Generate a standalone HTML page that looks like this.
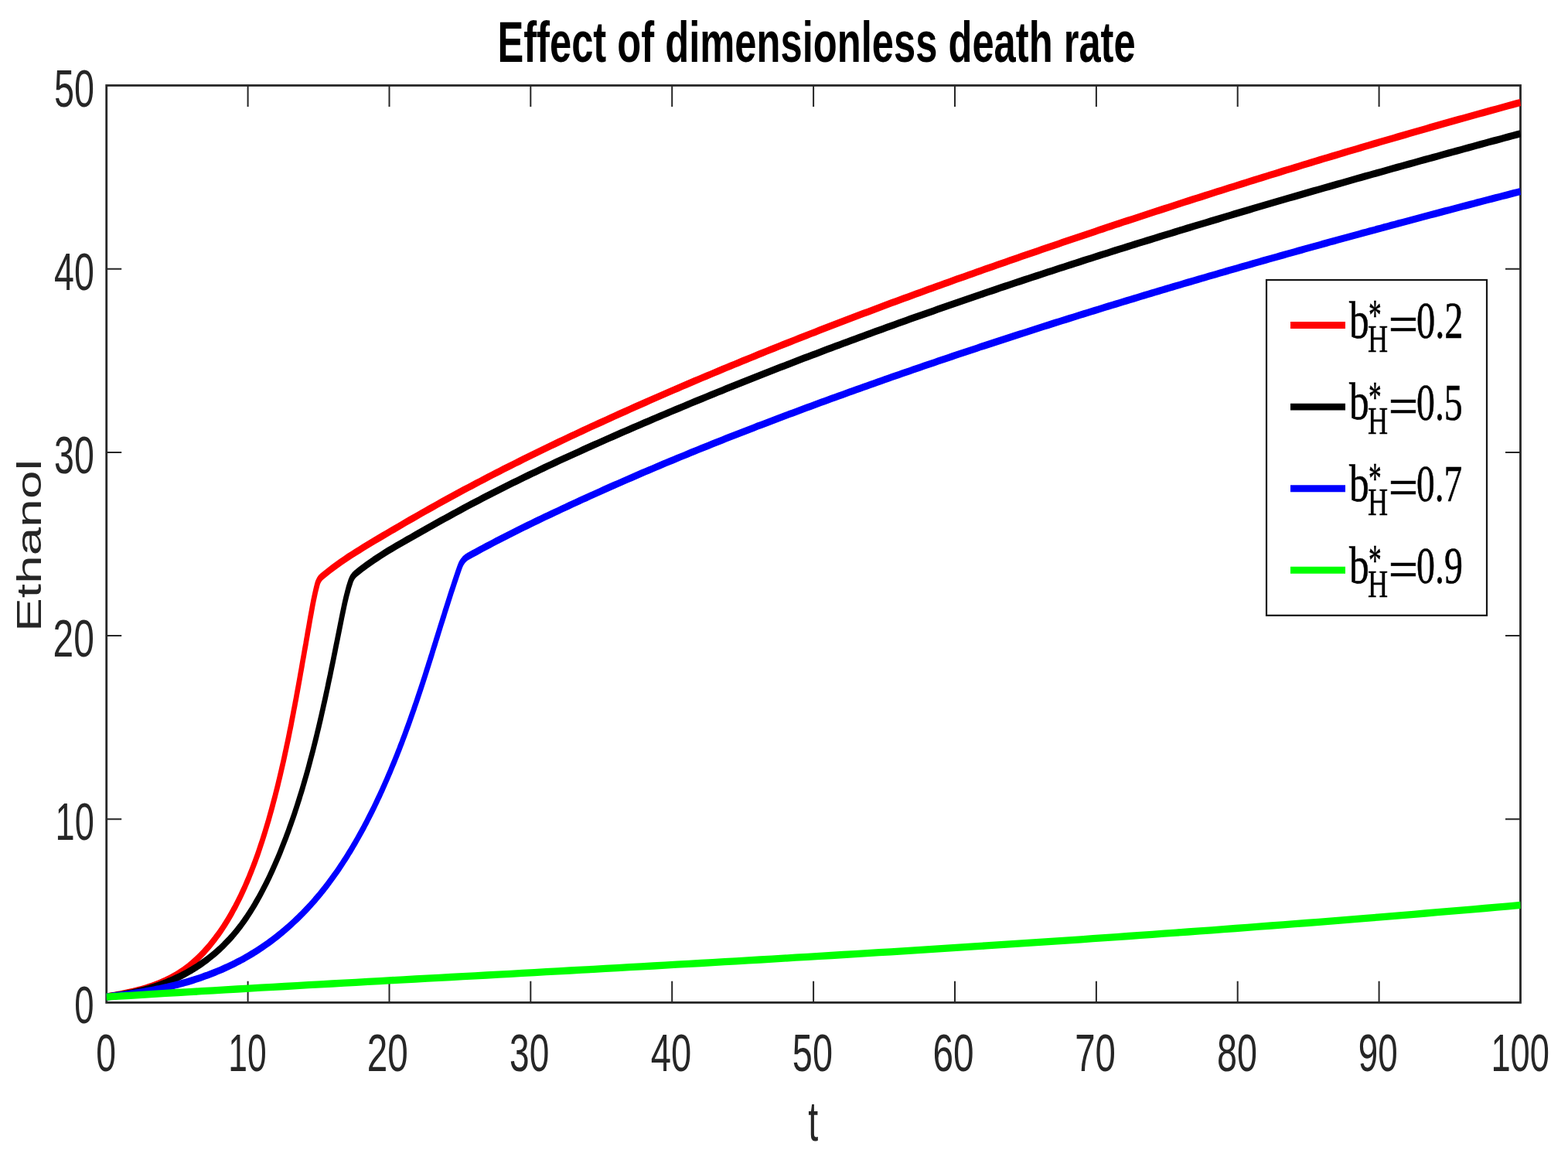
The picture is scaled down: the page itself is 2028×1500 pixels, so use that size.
<!DOCTYPE html><html><head><meta charset="utf-8"><title>Effect of dimensionless death rate</title><style>html,body{margin:0;padding:0;background:#fff;overflow:hidden;}svg{display:block;}</style></head><body>
<svg width="2028" height="1500" viewBox="0 0 2028 1500">
<rect x="0" y="0" width="2028" height="1500" fill="#fff"/>
<g stroke="#262626" fill="none">
<rect x="137.7" y="110.5" width="1828.8" height="1185.9" stroke-width="2.8"/>
<path d="M320.6 1296.4V1268.8M320.6 110.5V138.1M503.5 1296.4V1268.8M503.5 110.5V138.1M686.3 1296.4V1268.8M686.3 110.5V138.1M869.2 1296.4V1268.8M869.2 110.5V138.1M1052.1 1296.4V1268.8M1052.1 110.5V138.1M1235.0 1296.4V1268.8M1235.0 110.5V138.1M1417.9 1296.4V1268.8M1417.9 110.5V138.1M1600.7 1296.4V1268.8M1600.7 110.5V138.1M1783.6 1296.4V1268.8M1783.6 110.5V138.1M137.7 1059.2H157.2M1966.5 1059.2H1947.0M137.7 822.0H157.2M1966.5 822.0H1947.0M137.7 584.9H157.2M1966.5 584.9H1947.0M137.7 347.7H157.2M1966.5 347.7H1947.0" stroke-width="2"/>
</g>
<text transform="translate(124.20 1385.11) scale(0.46345 0.69014)" font-family="Liberation Sans, Arial, Helvetica, sans-serif" font-size="100" fill="#262626">0</text>
<text transform="translate(295.34 1385.11) scale(0.44400 0.69014)" font-family="Liberation Sans, Arial, Helvetica, sans-serif" font-size="100" fill="#262626">10</text>
<text transform="translate(474.72 1385.11) scale(0.47687 0.69014)" font-family="Liberation Sans, Arial, Helvetica, sans-serif" font-size="100" fill="#262626">20</text>
<text transform="translate(659.11 1385.11) scale(0.46013 0.69014)" font-family="Liberation Sans, Arial, Helvetica, sans-serif" font-size="100" fill="#262626">30</text>
<text transform="translate(841.66 1385.11) scale(0.47184 0.69014)" font-family="Liberation Sans, Arial, Helvetica, sans-serif" font-size="100" fill="#262626">40</text>
<text transform="translate(1024.83 1385.11) scale(0.46839 0.69014)" font-family="Liberation Sans, Arial, Helvetica, sans-serif" font-size="100" fill="#262626">50</text>
<text transform="translate(1206.51 1385.11) scale(0.47785 0.69014)" font-family="Liberation Sans, Arial, Helvetica, sans-serif" font-size="100" fill="#262626">60</text>
<text transform="translate(1390.23 1385.11) scale(0.47394 0.69014)" font-family="Liberation Sans, Arial, Helvetica, sans-serif" font-size="100" fill="#262626">70</text>
<text transform="translate(1574.08 1385.11) scale(0.46699 0.69014)" font-family="Liberation Sans, Arial, Helvetica, sans-serif" font-size="100" fill="#262626">80</text>
<text transform="translate(1756.86 1385.11) scale(0.45779 0.69014)" font-family="Liberation Sans, Arial, Helvetica, sans-serif" font-size="100" fill="#262626">90</text>
<text transform="translate(1928.38 1385.11) scale(0.45289 0.69014)" font-family="Liberation Sans, Arial, Helvetica, sans-serif" font-size="100" fill="#262626">100</text>
<text transform="translate(70.03 138.21) scale(0.46742 0.69014)" font-family="Liberation Sans, Arial, Helvetica, sans-serif" font-size="100" fill="#262626">50</text>
<text transform="translate(70.07 375.11) scale(0.46519 0.68732)" font-family="Liberation Sans, Arial, Helvetica, sans-serif" font-size="100" fill="#262626">40</text>
<text transform="translate(70.10 612.31) scale(0.46495 0.69155)" font-family="Liberation Sans, Arial, Helvetica, sans-serif" font-size="100" fill="#262626">30</text>
<text transform="translate(68.61 849.31) scale(0.47883 0.69014)" font-family="Liberation Sans, Arial, Helvetica, sans-serif" font-size="100" fill="#262626">20</text>
<text transform="translate(71.49 1086.11) scale(0.45200 0.69014)" font-family="Liberation Sans, Arial, Helvetica, sans-serif" font-size="100" fill="#262626">10</text>
<text transform="translate(96.33 1323.21) scale(0.45517 0.68873)" font-family="Liberation Sans, Arial, Helvetica, sans-serif" font-size="100" fill="#262626">0</text>
<text transform="translate(1045.28 1475.17) scale(0.46538 0.73096)" font-family="Liberation Sans, Arial, Helvetica, sans-serif" font-size="100" fill="#262626">t</text>
<text transform="translate(52.55 817.07) rotate(-90) scale(0.65852 0.44796)" font-family="Liberation Sans, Arial, Helvetica, sans-serif" font-size="100" fill="#262626">Ethanol</text>
<text transform="translate(643.42 80.11) scale(0.50692 0.73227)" font-family="Liberation Sans, Arial, Helvetica, sans-serif" font-size="100" font-weight="bold" fill="#000">Effect of dimensionless death rate</text>
<g transform="scale(0.71 1)" fill="none" stroke-width="9.3" stroke-linejoin="round" stroke-linecap="butt">
<path stroke="#ff0000" d="M193.9 1289.0L198.7 1288.4L203.4 1287.9L208.2 1287.3L213.0 1286.6L217.8 1286.0L222.6 1285.3L227.5 1284.6L232.3 1283.9L237.1 1283.2L242.0 1282.4L246.8 1281.5L251.7 1280.6L256.5 1279.7L261.3 1278.7L266.1 1277.7L270.9 1276.6L275.7 1275.5L280.5 1274.3L285.2 1273.0L289.9 1271.7L294.6 1270.3L299.3 1268.8L303.9 1267.2L308.5 1265.6L313.1 1263.9L317.6 1262.1L322.1 1260.2L326.5 1258.3L330.9 1256.2L335.2 1254.1L339.5 1251.8L343.8 1249.5L347.9 1247.1L352.1 1244.5L356.1 1241.9L360.2 1239.3L364.1 1236.5L368.1 1233.6L371.9 1230.7L375.7 1227.7L379.5 1224.7L383.2 1221.5L386.8 1218.3L390.4 1215.1L393.9 1211.7L397.4 1208.4L400.8 1204.9L404.2 1201.4L407.5 1197.9L410.7 1194.3L413.9 1190.7L417.0 1187.0L420.1 1183.2L423.1 1179.5L426.0 1175.6L429.0 1171.8L431.8 1167.9L434.6 1163.9L437.4 1160.0L440.1 1155.9L442.7 1151.9L445.4 1147.8L447.9 1143.7L450.4 1139.5L452.9 1135.4L455.3 1131.1L457.7 1126.9L460.1 1122.6L462.4 1118.3L464.7 1114.0L466.9 1109.7L469.1 1105.3L471.2 1100.9L473.3 1096.5L475.4 1092.1L477.5 1087.6L479.5 1083.2L481.5 1078.7L483.4 1074.2L485.3 1069.7L487.2 1065.2L489.1 1060.7L490.9 1056.1L492.7 1051.6L494.5 1047.0L496.2 1042.5L497.9 1037.9L499.6 1033.3L501.3 1028.8L502.9 1024.2L504.6 1019.6L506.2 1015.0L507.7 1010.4L509.3 1005.8L510.8 1001.2L512.3 996.6L513.8 992.0L515.3 987.3L516.8 982.7L518.2 978.1L519.6 973.4L521.0 968.8L522.4 964.1L523.8 959.5L525.2 954.8L526.5 950.2L527.8 945.5L529.2 940.8L530.5 936.2L531.7 931.5L533.0 926.8L534.3 922.1L535.5 917.4L536.8 912.8L538.0 908.1L539.3 903.4L540.5 898.7L541.7 894.0L542.9 889.3L544.1 884.6L545.3 879.9L546.5 875.2L547.6 870.5L548.8 865.8L550.0 861.0L551.1 856.3L552.3 851.6L553.5 846.9L554.6 842.2L555.8 837.5L557.0 832.8L558.1 828.0L559.3 823.3L560.4 818.6L561.6 813.9L562.8 809.2L563.9 804.5L565.1 799.7L566.3 795.0L567.5 790.3L568.7 785.6L569.9 780.9L571.2 776.3L572.6 771.6L574.0 767.0L575.5 762.4L577.1 757.9L578.0 755.4L578.5 754.2L579.0 753.1L579.6 752.1L580.3 751.1L581.0 750.1L581.8 749.2L582.6 748.3L583.5 747.5L584.5 746.7L585.5 746.0L586.6 745.3L587.1 745.0L593.7 741.2L600.3 737.5L607.0 733.9L613.8 730.4L620.6 726.9L627.4 723.6L634.3 720.3L641.2 717.1L648.1 714.0L655.1 710.9L662.1 707.8L669.1 704.8L676.1 701.8L683.1 698.8L690.1 695.9L697.2 692.9L704.2 690.0L711.2 687.0L718.3 684.1L725.3 681.2L732.4 678.2L739.4 675.3L746.5 672.4L753.5 669.6L760.6 666.7L767.7 663.8L774.7 661.0L781.8 658.1L788.9 655.3L796.0 652.5L803.1 649.7L810.2 646.9L817.3 644.1L824.4 641.4L831.5 638.6L838.6 635.9L845.7 633.2L852.9 630.5L860.0 627.8L867.1 625.1L874.3 622.5L881.4 619.8L888.6 617.2L895.7 614.5L902.9 611.9L910.1 609.3L917.2 606.7L924.4 604.1L931.6 601.6L938.8 599.0L946.0 596.5L953.1 593.9L960.3 591.4L967.5 588.9L974.7 586.4L981.9 583.9L989.1 581.4L996.4 578.9L1003.6 576.4L1010.8 574.0L1018.0 571.5L1025.2 569.1L1032.5 566.7L1039.7 564.2L1046.9 561.8L1054.2 559.4L1061.4 557.0L1068.6 554.6L1075.9 552.2L1083.1 549.9L1090.4 547.5L1097.6 545.2L1104.9 542.8L1112.1 540.5L1119.4 538.1L1126.7 535.8L1133.9 533.5L1141.2 531.2L1148.4 528.9L1155.7 526.5L1163.0 524.3L1170.3 522.0L1177.5 519.7L1184.8 517.4L1192.1 515.1L1199.4 512.9L1206.7 510.6L1213.9 508.4L1221.2 506.1L1228.5 503.9L1235.8 501.7L1243.1 499.4L1250.4 497.2L1257.7 495.0L1265.0 492.8L1272.3 490.6L1279.6 488.4L1286.9 486.2L1294.2 484.1L1301.5 481.9L1308.8 479.7L1316.1 477.5L1323.4 475.4L1330.7 473.2L1338.1 471.1L1345.4 469.0L1352.7 466.8L1360.0 464.7L1367.3 462.6L1374.7 460.5L1382.0 458.3L1389.3 456.2L1396.6 454.1L1404.0 452.1L1411.3 450.0L1418.6 447.9L1426.0 445.8L1433.3 443.7L1440.6 441.7L1448.0 439.6L1455.3 437.5L1462.7 435.5L1470.0 433.5L1477.4 431.4L1484.7 429.4L1492.1 427.3L1499.4 425.3L1506.8 423.3L1514.1 421.3L1521.5 419.3L1528.8 417.3L1536.2 415.3L1543.5 413.3L1550.9 411.3L1558.3 409.3L1565.6 407.3L1573.0 405.3L1580.4 403.4L1587.7 401.4L1595.1 399.4L1602.5 397.5L1609.8 395.5L1617.2 393.6L1624.6 391.6L1631.9 389.7L1639.3 387.8L1646.7 385.8L1654.1 383.9L1661.5 382.0L1668.8 380.1L1676.2 378.2L1683.6 376.3L1691.0 374.3L1698.4 372.4L1705.8 370.5L1713.1 368.7L1720.5 366.8L1727.9 364.9L1735.3 363.0L1742.7 361.1L1750.1 359.3L1757.5 357.4L1764.9 355.5L1772.3 353.7L1779.7 351.8L1787.1 349.9L1794.5 348.1L1801.9 346.2L1809.3 344.4L1816.7 342.6L1824.1 340.7L1831.5 338.9L1838.9 337.1L1846.3 335.2L1853.7 333.4L1861.1 331.6L1868.5 329.8L1875.9 328.0L1883.3 326.2L1890.7 324.4L1898.1 322.6L1905.5 320.8L1913.0 319.0L1920.4 317.2L1927.8 315.4L1935.2 313.6L1942.6 311.8L1950.0 310.0L1957.4 308.3L1964.9 306.5L1972.3 304.7L1979.7 302.9L1987.1 301.2L1994.5 299.4L2002.0 297.6L2009.4 295.9L2016.8 294.1L2024.2 292.4L2031.6 290.6L2039.1 288.9L2046.5 287.1L2053.9 285.4L2061.3 283.7L2068.8 281.9L2076.2 280.2L2083.6 278.5L2091.0 276.7L2098.5 275.0L2105.9 273.3L2113.3 271.6L2120.8 269.9L2128.2 268.2L2135.6 266.4L2143.0 264.7L2150.5 263.0L2157.9 261.3L2165.3 259.6L2172.8 257.9L2180.2 256.3L2187.7 254.6L2195.1 252.9L2202.5 251.2L2210.0 249.5L2217.4 247.8L2224.8 246.2L2232.3 244.5L2239.7 242.8L2247.2 241.2L2254.6 239.5L2262.0 237.9L2269.5 236.2L2276.9 234.5L2284.4 232.9L2291.8 231.2L2299.3 229.6L2306.7 228.0L2314.2 226.3L2321.6 224.7L2329.1 223.1L2336.5 221.4L2344.0 219.8L2351.4 218.2L2358.9 216.6L2366.3 215.0L2373.8 213.3L2381.2 211.7L2388.7 210.1L2396.1 208.5L2403.6 206.9L2411.0 205.3L2418.5 203.7L2426.0 202.1L2433.4 200.6L2440.9 199.0L2448.3 197.4L2455.8 195.8L2463.2 194.2L2470.7 192.7L2478.2 191.1L2485.6 189.5L2493.1 188.0L2500.6 186.4L2508.0 184.9L2515.5 183.3L2523.0 181.8L2530.4 180.2L2537.9 178.7L2545.4 177.1L2552.8 175.6L2560.3 174.1L2567.8 172.5L2575.2 171.0L2582.7 169.5L2590.2 168.0L2597.7 166.5L2605.1 164.9L2612.6 163.4L2620.1 161.9L2627.5 160.4L2635.0 158.9L2642.5 157.4L2650.0 155.9L2657.5 154.4L2664.9 153.0L2672.4 151.5L2679.9 150.0L2687.4 148.5L2694.9 147.0L2702.3 145.6L2709.8 144.1L2717.3 142.6L2724.8 141.2L2732.3 139.7L2739.8 138.3L2747.3 136.8L2754.7 135.4L2762.2 133.9L2769.7 132.5"/>
<path stroke="#000000" d="M193.9 1289.0L199.0 1288.6L204.1 1288.2L209.2 1287.7L214.3 1287.2L219.4 1286.7L224.5 1286.0L229.6 1285.4L234.7 1284.7L239.8 1284.0L244.9 1283.2L250.1 1282.3L255.2 1281.4L260.3 1280.5L265.4 1279.5L270.5 1278.5L275.5 1277.4L280.6 1276.2L285.7 1275.0L290.7 1273.8L295.7 1272.4L300.8 1271.1L305.7 1269.6L310.7 1268.2L315.7 1266.6L320.6 1265.0L325.5 1263.3L330.4 1261.6L335.2 1259.8L340.0 1258.0L344.8 1256.0L349.6 1254.1L354.3 1252.0L359.0 1249.9L363.6 1247.7L368.2 1245.5L372.8 1243.2L377.3 1240.8L381.8 1238.3L386.2 1235.8L390.6 1233.2L395.0 1230.5L399.3 1227.8L403.5 1225.0L407.7 1222.1L411.8 1219.1L415.9 1216.1L419.9 1213.0L423.9 1209.8L427.8 1206.5L431.6 1203.2L435.4 1199.8L439.2 1196.3L442.8 1192.7L446.4 1189.1L450.0 1185.4L453.5 1181.6L456.9 1177.8L460.3 1174.0L463.7 1170.0L466.9 1166.0L470.2 1162.0L473.4 1157.9L476.5 1153.8L479.6 1149.6L482.6 1145.4L485.6 1141.2L488.6 1136.9L491.5 1132.6L494.3 1128.2L497.1 1123.9L499.9 1119.4L502.6 1115.0L505.3 1110.6L508.0 1106.1L510.6 1101.6L513.1 1097.1L515.6 1092.5L518.1 1088.0L520.6 1083.5L523.0 1078.9L525.4 1074.3L527.7 1069.7L530.0 1065.1L532.3 1060.5L534.6 1055.9L536.8 1051.2L538.9 1046.6L541.1 1041.9L543.2 1037.2L545.3 1032.5L547.3 1027.8L549.4 1023.1L551.4 1018.4L553.3 1013.6L555.3 1008.9L557.2 1004.1L559.1 999.4L561.0 994.6L562.8 989.8L564.6 985.0L566.4 980.2L568.2 975.4L570.0 970.6L571.7 965.8L573.4 960.9L575.1 956.1L576.8 951.2L578.4 946.4L580.1 941.5L581.7 936.6L583.3 931.8L584.9 926.9L586.4 922.0L588.0 917.1L589.5 912.2L591.1 907.3L592.6 902.4L594.1 897.4L595.6 892.5L597.1 887.6L598.5 882.6L600.0 877.7L601.5 872.8L602.9 867.8L604.3 862.9L605.8 857.9L607.2 853.0L608.6 848.0L610.0 843.1L611.4 838.1L612.8 833.1L614.2 828.2L615.6 823.2L617.0 818.2L618.4 813.3L619.8 808.3L621.2 803.3L622.6 798.3L624.0 793.4L625.5 788.4L626.9 783.5L628.4 778.6L630.0 773.7L631.7 768.8L633.5 764.0L635.3 759.2L637.4 754.5L638.7 751.6L639.3 750.5L639.9 749.4L640.6 748.3L641.4 747.4L642.1 746.4L643.0 745.5L643.8 744.7L644.8 743.9L645.7 743.1L646.8 742.4L647.8 741.7L648.2 741.5L654.5 737.9L661.0 734.3L667.5 730.9L674.1 727.6L680.7 724.3L687.3 721.2L694.0 718.1L700.8 715.1L707.5 712.1L714.3 709.2L721.1 706.3L728.0 703.5L734.8 700.7L741.7 697.9L748.5 695.2L755.4 692.4L762.2 689.6L769.1 686.9L775.9 684.1L782.8 681.4L789.7 678.6L796.5 675.9L803.4 673.2L810.3 670.5L817.2 667.8L824.0 665.1L830.9 662.5L837.8 659.8L844.7 657.2L851.6 654.5L858.5 651.9L865.4 649.3L872.4 646.8L879.3 644.2L886.2 641.7L893.2 639.1L900.1 636.6L907.1 634.1L914.0 631.6L921.0 629.1L927.9 626.7L934.9 624.2L941.9 621.8L948.8 619.4L955.8 616.9L962.8 614.5L969.8 612.2L976.8 609.8L983.8 607.4L990.8 605.0L997.8 602.7L1004.8 600.4L1011.8 598.0L1018.8 595.7L1025.8 593.4L1032.9 591.1L1039.9 588.8L1046.9 586.6L1054.0 584.3L1061.0 582.0L1068.0 579.8L1075.1 577.5L1082.1 575.3L1089.1 573.1L1096.2 570.8L1103.2 568.6L1110.3 566.4L1117.3 564.2L1124.4 562.0L1131.5 559.8L1138.5 557.6L1145.6 555.5L1152.6 553.3L1159.7 551.1L1166.8 549.0L1173.8 546.8L1180.9 544.7L1188.0 542.5L1195.0 540.4L1202.1 538.2L1209.2 536.1L1216.3 534.0L1223.3 531.9L1230.4 529.8L1237.5 527.7L1244.6 525.6L1251.7 523.5L1258.7 521.4L1265.8 519.3L1272.9 517.2L1280.0 515.2L1287.1 513.1L1294.2 511.0L1301.3 509.0L1308.4 506.9L1315.5 504.9L1322.6 502.8L1329.7 500.8L1336.8 498.8L1343.9 496.8L1351.0 494.7L1358.1 492.7L1365.2 490.7L1372.3 488.7L1379.4 486.7L1386.5 484.7L1393.6 482.7L1400.8 480.8L1407.9 478.8L1415.0 476.8L1422.1 474.8L1429.2 472.9L1436.4 470.9L1443.5 469.0L1450.6 467.0L1457.7 465.1L1464.9 463.1L1472.0 461.2L1479.1 459.3L1486.2 457.4L1493.4 455.5L1500.5 453.5L1507.7 451.6L1514.8 449.7L1521.9 447.8L1529.1 445.9L1536.2 444.1L1543.3 442.2L1550.5 440.3L1557.6 438.4L1564.8 436.5L1571.9 434.7L1579.1 432.8L1586.2 431.0L1593.4 429.1L1600.5 427.3L1607.7 425.4L1614.8 423.6L1622.0 421.7L1629.1 419.9L1636.3 418.1L1643.5 416.3L1650.6 414.5L1657.8 412.6L1664.9 410.8L1672.1 409.0L1679.3 407.2L1686.4 405.4L1693.6 403.7L1700.8 401.9L1707.9 400.1L1715.1 398.3L1722.3 396.5L1729.4 394.8L1736.6 393.0L1743.8 391.2L1751.0 389.5L1758.1 387.7L1765.3 386.0L1772.5 384.2L1779.7 382.5L1786.9 380.8L1794.0 379.0L1801.2 377.3L1808.4 375.6L1815.6 373.9L1822.8 372.1L1830.0 370.4L1837.1 368.7L1844.3 367.0L1851.5 365.3L1858.7 363.6L1865.9 361.9L1873.1 360.2L1880.3 358.5L1887.5 356.9L1894.7 355.2L1901.9 353.5L1909.1 351.8L1916.3 350.2L1923.5 348.5L1930.7 346.8L1937.9 345.2L1945.1 343.5L1952.3 341.9L1959.5 340.2L1966.7 338.6L1973.9 336.9L1981.1 335.3L1988.3 333.7L1995.5 332.0L2002.7 330.4L2009.9 328.8L2017.1 327.2L2024.3 325.5L2031.5 323.9L2038.8 322.3L2046.0 320.7L2053.2 319.1L2060.4 317.5L2067.6 315.9L2074.8 314.3L2082.0 312.7L2089.3 311.1L2096.5 309.6L2103.7 308.0L2110.9 306.4L2118.1 304.8L2125.3 303.2L2132.6 301.7L2139.8 300.1L2147.0 298.5L2154.2 297.0L2161.5 295.4L2168.7 293.9L2175.9 292.3L2183.1 290.8L2190.4 289.2L2197.6 287.7L2204.8 286.1L2212.0 284.6L2219.3 283.1L2226.5 281.5L2233.7 280.0L2240.9 278.5L2248.2 276.9L2255.4 275.4L2262.6 273.9L2269.9 272.4L2277.1 270.9L2284.3 269.3L2291.6 267.8L2298.8 266.3L2306.0 264.8L2313.3 263.3L2320.5 261.8L2327.7 260.3L2335.0 258.8L2342.2 257.3L2349.5 255.8L2356.7 254.4L2363.9 252.9L2371.2 251.4L2378.4 249.9L2385.6 248.4L2392.9 246.9L2400.1 245.5L2407.4 244.0L2414.6 242.5L2421.8 241.1L2429.1 239.6L2436.3 238.1L2443.6 236.7L2450.8 235.2L2458.1 233.8L2465.3 232.3L2472.5 230.8L2479.8 229.4L2487.0 227.9L2494.3 226.5L2501.5 225.0L2508.8 223.6L2516.0 222.2L2523.3 220.7L2530.5 219.3L2537.8 217.8L2545.0 216.4L2552.2 215.0L2559.5 213.5L2566.7 212.1L2574.0 210.7L2581.2 209.3L2588.5 207.8L2595.7 206.4L2603.0 205.0L2610.2 203.6L2617.5 202.2L2624.7 200.7L2632.0 199.3L2639.2 197.9L2646.5 196.5L2653.7 195.1L2661.0 193.7L2668.2 192.3L2675.5 190.9L2682.7 189.5L2690.0 188.0L2697.2 186.6L2704.5 185.2L2711.7 183.8L2719.0 182.4L2726.2 181.1L2733.5 179.7L2740.7 178.3L2748.0 176.9L2755.2 175.5L2762.5 174.1L2769.7 172.7"/>
<path stroke="#0000ff" d="M193.9 1289.0L198.5 1288.6L203.1 1288.3L207.6 1287.9L212.2 1287.5L216.8 1287.1L221.4 1286.7L226.0 1286.3L230.6 1285.9L235.2 1285.4L239.8 1284.9L244.4 1284.4L249.1 1283.9L253.7 1283.4L258.3 1282.9L262.9 1282.3L267.6 1281.7L272.2 1281.1L276.8 1280.5L281.5 1279.9L286.1 1279.2L290.8 1278.6L295.4 1277.9L300.0 1277.1L304.7 1276.4L309.3 1275.6L313.9 1274.8L318.5 1274.0L323.2 1273.2L327.8 1272.3L332.4 1271.4L337.0 1270.5L341.6 1269.6L346.2 1268.6L350.8 1267.6L355.4 1266.5L359.9 1265.5L364.5 1264.4L369.1 1263.3L373.6 1262.1L378.2 1261.0L382.7 1259.8L387.2 1258.5L391.7 1257.2L396.2 1255.9L400.7 1254.6L405.2 1253.2L409.7 1251.8L414.1 1250.4L418.5 1248.9L423.0 1247.4L427.4 1245.8L431.8 1244.2L436.2 1242.6L440.5 1241.0L444.9 1239.3L449.2 1237.5L453.5 1235.7L457.8 1233.9L462.1 1232.1L466.3 1230.2L470.6 1228.2L474.8 1226.3L479.0 1224.3L483.2 1222.2L487.4 1220.1L491.5 1218.0L495.6 1215.8L499.7 1213.6L503.8 1211.4L507.8 1209.1L511.9 1206.7L515.9 1204.4L519.8 1202.0L523.8 1199.6L527.7 1197.1L531.6 1194.6L535.5 1192.0L539.4 1189.4L543.2 1186.8L547.0 1184.2L550.8 1181.5L554.5 1178.8L558.2 1176.0L561.9 1173.2L565.6 1170.4L569.2 1167.5L572.8 1164.6L576.3 1161.6L579.9 1158.7L583.4 1155.7L586.8 1152.6L590.3 1149.6L593.7 1146.5L597.1 1143.3L600.4 1140.1L603.8 1136.9L607.1 1133.7L610.3 1130.5L613.6 1127.2L616.8 1123.9L620.0 1120.5L623.2 1117.1L626.3 1113.7L629.4 1110.3L632.5 1106.8L635.5 1103.3L638.6 1099.8L641.6 1096.3L644.5 1092.7L647.5 1089.2L650.4 1085.5L653.3 1081.9L656.2 1078.2L659.0 1074.6L661.9 1070.9L664.7 1067.1L667.4 1063.4L670.2 1059.6L672.9 1055.8L675.6 1052.0L678.3 1048.2L681.0 1044.4L683.6 1040.5L686.2 1036.6L688.8 1032.7L691.4 1028.8L694.0 1024.8L696.5 1020.9L699.0 1016.9L701.5 1012.9L704.0 1008.9L706.4 1004.9L708.8 1000.9L711.3 996.8L713.6 992.8L716.0 988.7L718.4 984.6L720.7 980.5L723.0 976.4L725.3 972.3L727.6 968.2L729.8 964.0L732.1 959.9L734.3 955.7L736.5 951.6L738.7 947.4L740.8 943.2L743.0 939.0L745.1 934.8L747.2 930.6L749.3 926.4L751.4 922.2L753.5 918.0L755.5 913.7L757.6 909.5L759.6 905.3L761.6 901.0L763.6 896.8L765.6 892.6L767.6 888.3L769.5 884.1L771.5 879.8L773.4 875.6L775.3 871.3L777.2 867.0L779.1 862.8L781.0 858.5L782.9 854.3L784.8 850.0L786.7 845.8L788.5 841.5L790.4 837.2L792.3 833.0L794.1 828.7L796.0 824.5L797.9 820.2L799.7 816.0L801.6 811.7L803.4 807.5L805.3 803.3L807.2 799.0L809.1 794.8L810.9 790.5L812.8 786.3L814.7 782.1L816.6 777.9L818.5 773.7L820.4 769.4L822.3 765.2L824.3 761.0L826.2 756.8L828.2 752.6L830.1 748.5L832.1 744.3L834.1 740.1L836.1 735.9L837.4 733.4L838.3 731.6L839.3 730.0L840.4 728.4L841.6 727.0L842.9 725.6L844.3 724.3L845.7 723.2L847.3 722.1L848.9 721.1L850.7 720.2L852.5 719.4L854.6 718.6L860.8 716.2L867.0 713.8L873.2 711.4L879.4 709.0L885.6 706.6L891.9 704.3L898.1 702.0L904.3 699.7L910.6 697.4L916.8 695.1L923.1 692.8L929.3 690.6L935.6 688.4L941.8 686.1L948.1 683.9L954.4 681.7L960.7 679.5L966.9 677.4L973.2 675.2L979.5 673.0L985.8 670.9L992.1 668.7L998.4 666.6L1004.7 664.5L1011.0 662.4L1017.3 660.3L1023.6 658.2L1029.9 656.1L1036.2 654.0L1042.5 651.9L1048.8 649.8L1055.2 647.8L1061.5 645.7L1067.8 643.7L1074.1 641.6L1080.5 639.6L1086.8 637.6L1093.1 635.6L1099.5 633.5L1105.8 631.5L1112.1 629.5L1118.5 627.5L1124.8 625.6L1131.2 623.6L1137.5 621.6L1143.9 619.6L1150.2 617.7L1156.6 615.7L1162.9 613.8L1169.3 611.8L1175.6 609.9L1182.0 608.0L1188.4 606.1L1194.7 604.1L1201.1 602.2L1207.5 600.3L1213.8 598.4L1220.2 596.6L1226.6 594.7L1233.0 592.8L1239.4 590.9L1245.7 589.1L1252.1 587.2L1258.5 585.3L1264.9 583.5L1271.3 581.6L1277.7 579.8L1284.1 578.0L1290.5 576.2L1296.9 574.3L1303.2 572.5L1309.6 570.7L1316.0 568.9L1322.4 567.1L1328.8 565.3L1335.3 563.5L1341.7 561.7L1348.1 560.0L1354.5 558.2L1360.9 556.4L1367.3 554.7L1373.7 552.9L1380.1 551.1L1386.5 549.4L1393.0 547.7L1399.4 545.9L1405.8 544.2L1412.2 542.4L1418.6 540.7L1425.1 539.0L1431.5 537.3L1437.9 535.6L1444.3 533.9L1450.8 532.2L1457.2 530.5L1463.6 528.8L1470.1 527.1L1476.5 525.4L1482.9 523.7L1489.4 522.0L1495.8 520.3L1502.2 518.7L1508.7 517.0L1515.1 515.3L1521.5 513.7L1528.0 512.0L1534.4 510.4L1540.9 508.7L1547.3 507.1L1553.7 505.4L1560.2 503.8L1566.6 502.2L1573.1 500.5L1579.5 498.9L1586.0 497.3L1592.4 495.7L1598.9 494.0L1605.3 492.4L1611.8 490.8L1618.2 489.2L1624.7 487.6L1631.1 486.0L1637.6 484.4L1644.0 482.8L1650.5 481.2L1657.0 479.7L1663.4 478.1L1669.9 476.5L1676.3 474.9L1682.8 473.3L1689.2 471.8L1695.7 470.2L1702.2 468.7L1708.6 467.1L1715.1 465.5L1721.6 464.0L1728.0 462.4L1734.5 460.9L1741.0 459.3L1747.4 457.8L1753.9 456.3L1760.4 454.7L1766.8 453.2L1773.3 451.7L1779.8 450.2L1786.2 448.6L1792.7 447.1L1799.2 445.6L1805.7 444.1L1812.1 442.6L1818.6 441.1L1825.1 439.6L1831.6 438.1L1838.1 436.6L1844.5 435.1L1851.0 433.6L1857.5 432.1L1864.0 430.7L1870.5 429.2L1876.9 427.7L1883.4 426.2L1889.9 424.7L1896.4 423.3L1902.9 421.8L1909.4 420.4L1915.8 418.9L1922.3 417.4L1928.8 416.0L1935.3 414.5L1941.8 413.1L1948.3 411.6L1954.8 410.2L1961.3 408.8L1967.7 407.3L1974.2 405.9L1980.7 404.5L1987.2 403.0L1993.7 401.6L2000.2 400.2L2006.7 398.8L2013.2 397.3L2019.7 395.9L2026.2 394.5L2032.7 393.1L2039.2 391.7L2045.7 390.3L2052.2 388.9L2058.7 387.5L2065.2 386.1L2071.7 384.7L2078.2 383.3L2084.7 381.9L2091.2 380.5L2097.7 379.1L2104.2 377.8L2110.7 376.4L2117.2 375.0L2123.7 373.6L2130.2 372.3L2136.7 370.9L2143.2 369.5L2149.7 368.2L2156.2 366.8L2162.8 365.4L2169.3 364.1L2175.8 362.7L2182.3 361.4L2188.8 360.0L2195.3 358.7L2201.8 357.3L2208.3 356.0L2214.8 354.7L2221.3 353.3L2227.9 352.0L2234.4 350.6L2240.9 349.3L2247.4 348.0L2253.9 346.7L2260.4 345.3L2266.9 344.0L2273.5 342.7L2280.0 341.4L2286.5 340.0L2293.0 338.7L2299.5 337.4L2306.0 336.1L2312.6 334.8L2319.1 333.5L2325.6 332.2L2332.1 330.9L2338.6 329.6L2345.2 328.3L2351.7 327.0L2358.2 325.7L2364.7 324.4L2371.3 323.1L2377.8 321.8L2384.3 320.5L2390.8 319.2L2397.3 318.0L2403.9 316.7L2410.4 315.4L2416.9 314.1L2423.4 312.8L2430.0 311.6L2436.5 310.3L2443.0 309.0L2449.6 307.8L2456.1 306.5L2462.6 305.2L2469.1 304.0L2475.7 302.7L2482.2 301.4L2488.7 300.2L2495.3 298.9L2501.8 297.7L2508.3 296.4L2514.8 295.2L2521.4 293.9L2527.9 292.7L2534.4 291.4L2541.0 290.2L2547.5 288.9L2554.0 287.7L2560.6 286.5L2567.1 285.2L2573.6 284.0L2580.2 282.7L2586.7 281.5L2593.2 280.3L2599.8 279.0L2606.3 277.8L2612.8 276.6L2619.4 275.4L2625.9 274.1L2632.4 272.9L2639.0 271.7L2645.5 270.5L2652.0 269.2L2658.6 268.0L2665.1 266.8L2671.6 265.6L2678.2 264.4L2684.7 263.2L2691.3 261.9L2697.8 260.7L2704.3 259.5L2710.9 258.3L2717.4 257.1L2723.9 255.9L2730.5 254.7L2737.0 253.5L2743.6 252.3L2750.1 251.1L2756.6 249.9L2763.2 248.7L2769.7 247.5"/>
<path stroke="#00ff00" d="M193.9 1289.2L215.6 1288.2L237.2 1287.3L258.9 1286.3L280.5 1285.4L302.2 1284.4L323.8 1283.5L345.5 1282.6L367.1 1281.7L388.8 1280.8L410.4 1279.9L432.1 1279.0L453.7 1278.1L475.4 1277.2L497.0 1276.3L518.7 1275.5L540.3 1274.6L562.0 1273.7L583.6 1272.9L605.3 1272.0L626.9 1271.1L648.6 1270.3L670.2 1269.4L691.9 1268.6L713.5 1267.7L735.2 1266.9L756.8 1266.0L778.5 1265.2L800.1 1264.3L821.8 1263.5L843.4 1262.7L865.1 1261.8L886.7 1261.0L908.4 1260.1L930.1 1259.3L951.7 1258.4L973.4 1257.6L995.0 1256.7L1016.7 1255.9L1038.3 1255.0L1060.0 1254.2L1081.6 1253.3L1103.3 1252.4L1124.9 1251.6L1146.6 1250.7L1168.2 1249.8L1189.9 1249.0L1211.5 1248.1L1233.2 1247.2L1254.8 1246.3L1276.5 1245.5L1298.1 1244.6L1319.8 1243.7L1341.4 1242.8L1363.1 1241.9L1384.7 1241.0L1406.4 1240.1L1428.0 1239.2L1449.7 1238.2L1471.3 1237.3L1493.0 1236.4L1514.6 1235.5L1536.3 1234.5L1557.9 1233.6L1579.6 1232.7L1601.2 1231.7L1622.9 1230.8L1644.5 1229.8L1666.2 1228.8L1687.8 1227.9L1709.5 1226.9L1731.1 1225.9L1752.8 1224.9L1774.4 1223.9L1796.0 1222.9L1817.7 1221.9L1839.3 1220.9L1861.0 1219.9L1882.6 1218.9L1904.3 1217.9L1925.9 1216.8L1947.6 1215.8L1969.2 1214.8L1990.8 1213.7L2012.5 1212.6L2034.1 1211.6L2055.8 1210.5L2077.4 1209.4L2099.1 1208.3L2120.7 1207.2L2142.3 1206.1L2164.0 1205.0L2185.6 1203.9L2207.3 1202.8L2228.9 1201.6L2250.5 1200.5L2272.2 1199.3L2293.8 1198.2L2315.4 1197.0L2337.1 1195.8L2358.7 1194.7L2380.4 1193.5L2402.0 1192.3L2423.6 1191.1L2445.3 1189.8L2466.9 1188.6L2488.5 1187.4L2510.2 1186.1L2531.8 1184.9L2553.4 1183.6L2575.1 1182.3L2596.7 1181.0L2618.3 1179.7L2639.9 1178.4L2661.6 1177.1L2683.2 1175.8L2704.8 1174.5L2726.5 1173.1L2748.1 1171.8L2769.7 1170.4"/>
</g>
<rect x="1638" y="362" width="285" height="433.8" fill="#fff" stroke="#141414" stroke-width="2.2"/>
<path d="M1669 420.5H1740" stroke="#ff0000" stroke-width="8.9"/>
<text transform="translate(1745.00 436.73) scale(0.51475 0.67075)" font-family="Liberation Serif, Times New Roman, serif" font-size="100" fill="#000" stroke="#000" stroke-width="0.9">b</text>
<text transform="translate(1769.93 427.29) scale(0.33471 0.56486)" font-family="Liberation Serif, Times New Roman, serif" font-size="100" fill="#000" stroke="#000" stroke-width="0.9">*</text>
<text transform="translate(1769.04 455.20) scale(0.36150 0.50330)" font-family="Liberation Serif, Times New Roman, serif" font-size="100" fill="#000" stroke="#000" stroke-width="0.9">H</text>
<text transform="translate(1795.82 442.15) scale(0.68085 0.68000)" font-family="Liberation Serif, Times New Roman, serif" font-size="100" fill="#000" stroke="#000" stroke-width="0.9">=</text>
<text transform="translate(1832.02 436.96) scale(0.48448 0.68195)" font-family="Liberation Serif, Times New Roman, serif" font-size="100" fill="#000" stroke="#000" stroke-width="0.9">0.2</text>
<path d="M1669 526.1H1740" stroke="#000000" stroke-width="8.9"/>
<text transform="translate(1745.00 542.33) scale(0.51475 0.67075)" font-family="Liberation Serif, Times New Roman, serif" font-size="100" fill="#000" stroke="#000" stroke-width="0.9">b</text>
<text transform="translate(1769.93 532.89) scale(0.33471 0.56486)" font-family="Liberation Serif, Times New Roman, serif" font-size="100" fill="#000" stroke="#000" stroke-width="0.9">*</text>
<text transform="translate(1769.04 560.80) scale(0.36150 0.50330)" font-family="Liberation Serif, Times New Roman, serif" font-size="100" fill="#000" stroke="#000" stroke-width="0.9">H</text>
<text transform="translate(1795.82 547.75) scale(0.68085 0.68000)" font-family="Liberation Serif, Times New Roman, serif" font-size="100" fill="#000" stroke="#000" stroke-width="0.9">=</text>
<text transform="translate(1832.05 542.56) scale(0.47762 0.68195)" font-family="Liberation Serif, Times New Roman, serif" font-size="100" fill="#000" stroke="#000" stroke-width="0.9">0.5</text>
<path d="M1669 631.7H1740" stroke="#0000ff" stroke-width="8.9"/>
<text transform="translate(1745.00 647.93) scale(0.51475 0.67075)" font-family="Liberation Serif, Times New Roman, serif" font-size="100" fill="#000" stroke="#000" stroke-width="0.9">b</text>
<text transform="translate(1769.93 638.49) scale(0.33471 0.56486)" font-family="Liberation Serif, Times New Roman, serif" font-size="100" fill="#000" stroke="#000" stroke-width="0.9">*</text>
<text transform="translate(1769.04 666.40) scale(0.36150 0.50330)" font-family="Liberation Serif, Times New Roman, serif" font-size="100" fill="#000" stroke="#000" stroke-width="0.9">H</text>
<text transform="translate(1795.82 653.35) scale(0.68085 0.68000)" font-family="Liberation Serif, Times New Roman, serif" font-size="100" fill="#000" stroke="#000" stroke-width="0.9">=</text>
<text transform="translate(1832.06 648.16) scale(0.47360 0.68195)" font-family="Liberation Serif, Times New Roman, serif" font-size="100" fill="#000" stroke="#000" stroke-width="0.9">0.7</text>
<path d="M1669 737.3H1740" stroke="#00ff00" stroke-width="8.9"/>
<text transform="translate(1745.00 753.53) scale(0.51475 0.67075)" font-family="Liberation Serif, Times New Roman, serif" font-size="100" fill="#000" stroke="#000" stroke-width="0.9">b</text>
<text transform="translate(1769.93 744.09) scale(0.33471 0.56486)" font-family="Liberation Serif, Times New Roman, serif" font-size="100" fill="#000" stroke="#000" stroke-width="0.9">*</text>
<text transform="translate(1769.04 772.00) scale(0.36150 0.50330)" font-family="Liberation Serif, Times New Roman, serif" font-size="100" fill="#000" stroke="#000" stroke-width="0.9">H</text>
<text transform="translate(1795.82 758.95) scale(0.68085 0.68000)" font-family="Liberation Serif, Times New Roman, serif" font-size="100" fill="#000" stroke="#000" stroke-width="0.9">=</text>
<text transform="translate(1832.04 753.76) scale(0.47898 0.68195)" font-family="Liberation Serif, Times New Roman, serif" font-size="100" fill="#000" stroke="#000" stroke-width="0.9">0.9</text>
</svg></body></html>
